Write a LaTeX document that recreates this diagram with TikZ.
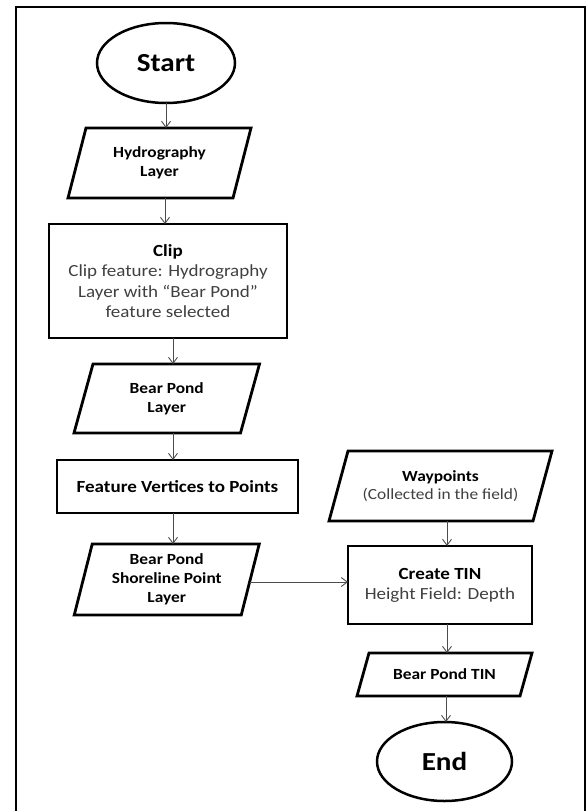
\documentclass[tikz,border=0pt]{standalone}
\usepackage{fontspec}
\setmainfont{Carlito}[FakeStretch=1.12]
\usetikzlibrary{shapes.geometric,arrows.meta}
\definecolor{regtext}{gray}{0.25}
\definecolor{arrowc}{gray}{0.3}
\newcommand\paraoutline[2]{\draw[line width=2.8pt, line join=miter] ([xshift=#2]#1.north west) -- ([xshift=#2]#1.north east) -- ([xshift=-#2]#1.south east) -- ([xshift=-#2]#1.south west) -- cycle;}
\begin{document}
\begin{tikzpicture}[x=1pt,y=-1pt,
  box/.style={draw=black, line width=2.8pt, rectangle, align=center, inner sep=2pt, outer sep=0pt, text=black},
  io/.style={rectangle, align=center, inner sep=2pt, outer sep=0pt, text=black},
  term/.style={draw=black, ellipse, line width=2.5pt, inner sep=0pt, outer sep=0pt, font=\fontsize{26}{30}\selectfont\bfseries},
  iobold/.style={font=\fontsize{15.5}{19}\selectfont\bfseries},
  arr/.style={draw=arrowc, line width=0.9pt, -{Straight Barb[length=6pt,width=9pt,line width=0.9pt]}},
  ]
\useasboundingbox (0,0) rectangle (587,811);
\draw[line width=2pt] (16,7) rectangle (585,830);

\node[term, minimum width=138pt, minimum height=80pt] (start) at (166,63) {Start};
\node[io, iobold, minimum width=165pt, minimum height=70pt] (hydro) at (159.5,163) {Hydrography\\Layer};
\node[box, minimum width=238pt, minimum height=114pt, font=\fontsize{17}{20.3}\selectfont] (clip) at (168,281)
  {\textbf{Clip}\\\textcolor{regtext}{Clip feature: Hydrography}\\\textcolor{regtext}{Layer with “Bear Pond”}\\\textcolor{regtext}{feature selected}};
\node[io, iobold, minimum width=166.5pt, minimum height=69pt] (bpl) at (166.75,398.5) {Bear Pond\\Layer};
\node[box, minimum width=241pt, minimum height=53pt, font=\fontsize{17}{20}\selectfont\bfseries] (fv) at (177.5,486.5) {Feature Vertices to Points};
\node[io, iobold, minimum width=167pt, minimum height=71pt] (shore) at (166.75,579.5) {Bear Pond\\Shoreline Point\\Layer};
\node[io, minimum width=204pt, minimum height=70pt, font=\fontsize{15.5}{18.5}\selectfont] (way) at (440.5,486)
  {\textbf{Waypoints}\\\textcolor{regtext}{(Collected in the field)}};
\node[box, minimum width=184pt, minimum height=78pt, font=\fontsize{17}{20}\selectfont] (tin) at (440,585)
  {\textbf{Create TIN}\\\textcolor{regtext}{Height Field: Depth}};
\node[io, iobold, minimum width=163pt, minimum height=43pt] (bptin) at (444.5,674.5) {Bear Pond TIN};
\node[term, minimum width=135pt, minimum height=79pt] (end) at (444.5,761.5) {End};

\paraoutline{hydro}{9pt}
\paraoutline{bpl}{9.5pt}
\paraoutline{shore}{9pt}
\paraoutline{way}{9.5pt}
\paraoutline{bptin}{6pt}

\draw[arr] (start.south) -- ([xshift=6.5pt]hydro.north);
\draw[arr] ([xshift=5.5pt]hydro.south) -- ([xshift=-3pt]clip.north);
\draw[arr] ([xshift=5pt]clip.south) -- ([xshift=6.25pt]bpl.north);
\draw[arr] ([xshift=6.25pt]bpl.south) -- ([xshift=-4.5pt]fv.north);
\draw[arr] ([xshift=-4.5pt]fv.south) -- ([xshift=6.25pt]shore.north);
\draw[arr] ([yshift=-2.5pt]shore.east) -- ([yshift=-2.5pt]shore.east -| tin.west);
\draw[arr] ([xshift=6.5pt]way.south) -- ([xshift=7pt]tin.north);
\draw[arr] ([xshift=7pt]tin.south) -- ([xshift=2.5pt]bptin.north);
\draw[arr] ([xshift=1.5pt]bptin.south) -- ([xshift=1.5pt]end.north);
\end{tikzpicture}
\end{document}
